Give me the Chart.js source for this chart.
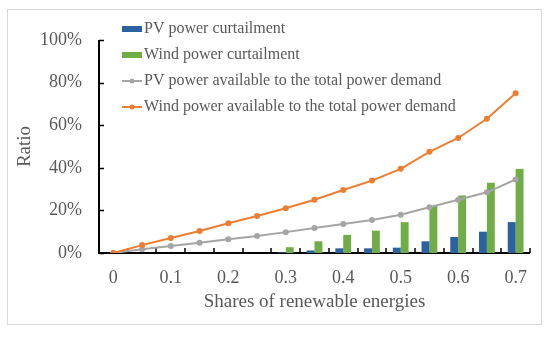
<!DOCTYPE html>
<html>
<head>
<meta charset="utf-8">
<script src="https://cdn.jsdelivr.net/npm/chart.js@4"></script>
<style>
  html, body { margin: 0; padding: 0; background: #ffffff; }
  canvas { display: block; }
</style>
</head>
<body>
<canvas id="curtailChart" width="550" height="339"></canvas>
<script>
// shares of renewable energies (x categories)
const shares = ['0', '0.05', '0.1', '0.15', '0.2', '0.25', '0.3', '0.35', '0.4', '0.45', '0.5', '0.55', '0.6', '0.65', '0.7'];

// values in %
const pvCurtailment   = [0, 0, 0, 0, 0, 0, 0.3, 1.2, 2.2, 2.2, 2.5, 5.5, 7.5, 10, 14.5];
const windCurtailment = [0, 0, 0, 0, 0, 0, 2.7, 5.5, 8.5, 10.5, 14.5, 22, 27, 33, 39.5];
const pvAvailable     = [0, 1.8, 3.3, 4.8, 6.4, 8, 9.8, 11.7, 13.6, 15.5, 18, 21.5, 25, 28.5, 34.5];
const windAvailable   = [0, 3.7, 7, 10.3, 14, 17.4, 21, 25, 29.6, 34, 39.5, 47.5, 54, 63, 75];

const yTicks = [0, 20, 40, 60, 80, 100];

const FONT = "'Liberation Serif', 'Times New Roman', serif";
const TEXT = '#595959';

// white background + outer frame
const frameGround = {
    id: 'frameGround',
    beforeDraw: (chart) => {
        const ctx = chart.ctx;
        ctx.save();
        ctx.fillStyle = '#ffffff';
        ctx.fillRect(0, 0, chart.width, chart.height);
        ctx.strokeStyle = '#d9d9d9';
        ctx.lineWidth = 1;
        ctx.strokeRect(7.5, 9.5, chart.width - 16, chart.height - 24);
        ctx.restore();
    }
};

// axis lines with inside tick marks (Excel style)
const axesInside = {
    id: 'axesInside',
    beforeDatasetsDraw: (chart) => {
        const ctx = chart.ctx;
        const xs = chart.scales.x;
        const ys = chart.scales.y;
        const a = chart.chartArea;
        ctx.save();
        ctx.strokeStyle = '#000000';
        ctx.lineWidth = 2;
        ctx.beginPath();
        ctx.moveTo(a.left, a.top);
        ctx.lineTo(a.left, a.bottom);
        ctx.lineTo(a.right, a.bottom);
        ctx.stroke();
        ctx.lineWidth = 1.5;
        ctx.beginPath();
        const n = shares.length;
        for (let i = 0; i <= n; i++) {
            const px = Math.round(xs.left + i * xs.width / n);
            ctx.moveTo(px, a.bottom);
            ctx.lineTo(px, a.bottom - 5);
        }
        yTicks.forEach(v => {
            const py = Math.round(ys.getPixelForValue(v)) + 0.5;
            ctx.moveTo(a.left, py);
            ctx.lineTo(a.left + 5, py);
        });
        ctx.stroke();
        ctx.restore();
    }
};

// legend in the upper-left corner of the plot
const cornerLegend = {
    id: 'cornerLegend',
    afterDraw: (chart) => {
        const ctx = chart.ctx;
        const a = chart.chartArea;
        const x0 = a.left + 23;
        let y = a.top - 11;
        ctx.save();
        ctx.font = '16px ' + FONT;
        ctx.textBaseline = 'middle';
        ctx.textAlign = 'left';
        chart.data.datasets.forEach(ds => {
            if (ds.type === 'line') {
                ctx.strokeStyle = ds.borderColor;
                ctx.lineWidth = 2;
                ctx.beginPath();
                ctx.moveTo(x0, y);
                ctx.lineTo(x0 + 20, y);
                ctx.stroke();
                ctx.fillStyle = ds.borderColor;
                ctx.beginPath();
                ctx.arc(x0 + 10, y, 2.5, 0, Math.PI * 2);
                ctx.fill();
            } else {
                ctx.fillStyle = ds.backgroundColor;
                ctx.fillRect(x0, y - 3, 20, 6);
            }
            ctx.fillStyle = TEXT;
            ctx.fillText(ds.label, x0 + 22, y);
            y += 26;
        });
        ctx.restore();
    }
};

new Chart(document.getElementById('curtailChart'), {
    type: 'bar',
    plugins: [frameGround, axesInside, cornerLegend],
    data: {
        labels: shares,
        datasets: [
            {
                label: 'PV power curtailment',
                data: pvCurtailment,
                backgroundColor: '#2b62a0',
                categoryPercentage: 0.55,
                barPercentage: 1.0,
                order: 3
            },
            {
                label: 'Wind power curtailment',
                data: windCurtailment,
                backgroundColor: '#70ad47',
                categoryPercentage: 0.55,
                barPercentage: 1.0,
                order: 3
            },
            {
                type: 'line',
                label: 'PV power available to the total power demand',
                data: pvAvailable,
                borderColor: '#a5a5a5',
                backgroundColor: '#a5a5a5',
                borderWidth: 2,
                pointRadius: 3,
                pointBorderWidth: 0,
                tension: 0,
                fill: false,
                order: 2
            },
            {
                type: 'line',
                label: 'Wind power available to the total power demand',
                data: windAvailable,
                borderColor: '#ed7d31',
                backgroundColor: '#ed7d31',
                borderWidth: 2,
                pointRadius: 3,
                pointBorderWidth: 0,
                tension: 0,
                fill: false,
                order: 1
            }
        ]
    },
    options: {
        responsive: false,
        animation: false,
        devicePixelRatio: 1,
        layout: {
            padding: { top: 40, right: 20, left: 0, bottom: 0 }
        },
        plugins: {
            legend: { display: false },
            tooltip: { enabled: false }
        },
        scales: {
            x: {
                offset: true,
                grid: { display: false, drawTicks: false },
                border: { display: false },
                afterFit: (scale) => { scale.height = 86; },
                ticks: {
                    autoSkip: false,
                    maxRotation: 0,
                    padding: 14,
                    color: TEXT,
                    font: { family: FONT, size: 18 },
                    callback: function (val, i) {
                        return i % 2 === 0 ? this.getLabelForValue(val) : '';
                    }
                },
                title: {
                    display: true,
                    text: 'Shares of renewable energies',
                    color: TEXT,
                    font: { family: FONT, size: 19 },
                    padding: { top: 0, bottom: 26 }
                }
            },
            y: {
                min: 0,
                max: 100,
                grid: { display: false, drawTicks: false },
                border: { display: false },
                afterFit: (scale) => { scale.width = 99; },
                ticks: {
                    stepSize: 20,
                    padding: 17,
                    color: TEXT,
                    font: { family: FONT, size: 18 },
                    callback: (v) => v + '%'
                },
                title: {
                    display: true,
                    text: 'Ratio',
                    color: TEXT,
                    font: { family: FONT, size: 19 },
                    padding: { top: 14, bottom: 0 }
                }
            }
        }
    }
});
</script>
</body>
</html>
